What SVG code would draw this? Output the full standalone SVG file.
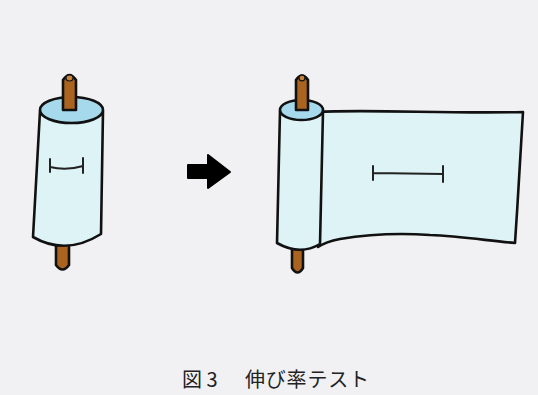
<svg xmlns="http://www.w3.org/2000/svg" width="538" height="395" viewBox="0 0 538 395">
  <style>
    .ink { stroke: #111; stroke-width: 2.6; stroke-linejoin: round; stroke-linecap: round; }
    .film { fill: #def3f6; }
    .cap { fill: #a6d9ec; }
    .rod { fill: #aa6420; }
    .mark { fill: none; stroke: #222; stroke-width: 2; stroke-linecap: round; }
    .caption { font-family: "Noto Sans CJK JP", "Noto Sans CJK SC", sans-serif; font-size: 20px; fill: #222; }
  </style>
  <rect width="538" height="395" fill="#f1f1f3"/>

  <!-- roll before the test -->
  <g id="roll-before">
    <path class="rod ink" d="M56,238 L56,265 Q62.5,274 69,265 L69,238 Z"/>
    <path class="film ink" d="M40,111 L33,237 Q66,256 101,234 L103,111 Z"/>
    <ellipse class="cap ink" cx="71.5" cy="110" rx="31.5" ry="13"/>
    <path class="rod ink" d="M63,110 L63,80 Q69.5,70 76,80 L76,110 Z"/>
    <ellipse cx="69.5" cy="78" rx="3.5" ry="3" fill="#c8843c" stroke="#111" stroke-width="1.2"/>
    <path class="mark" d="M50,159 L50,172 M50,167 Q66,171 83,166 M83,158 L83,173"/>
  </g>

  <!-- arrow between the two states -->
  <g id="arrow">
    <path d="M188,165 L208,165 L208,155 L230,172 L208,188 L208,178 L188,178 Z" fill="#000" stroke="#000" stroke-width="2" stroke-linejoin="round"/>
  </g>

  <!-- roll with film pulled out -->
  <g id="roll-stretched">
    <path class="film ink" d="M316,112 C370,109 450,114 523,112 C520,160 518,200 515,243 C490,241 460,236 430,235 C400,233 370,234 340,239 C330,241 324,243 318,247 Z"/>
    <path class="rod ink" d="M292,244 L292,268 Q297.5,277 303,268 L303,244 Z"/>
    <path class="film ink" d="M280,111 L277,243 Q300,256 320,244 L323,111 Z"/>
    <ellipse class="cap ink" cx="301.5" cy="110" rx="21.5" ry="10"/>
    <path class="rod ink" d="M296,110 L296,80 Q302,71 308,80 L308,110 Z"/>
    <ellipse cx="302" cy="78" rx="3" ry="2.8" fill="#c8843c" stroke="#111" stroke-width="1.2"/>
    <path class="mark" d="M373,166 L373,180 M373,173 L443,174 M443,166 L443,182"/>
  </g>

  <!-- caption -->
  <g id="caption">
    <text class="caption" x="182" y="387">図 3</text>
    <text class="caption" x="245" y="387" letter-spacing="0.8">伸び率テスト</text>
  </g>
</svg>
